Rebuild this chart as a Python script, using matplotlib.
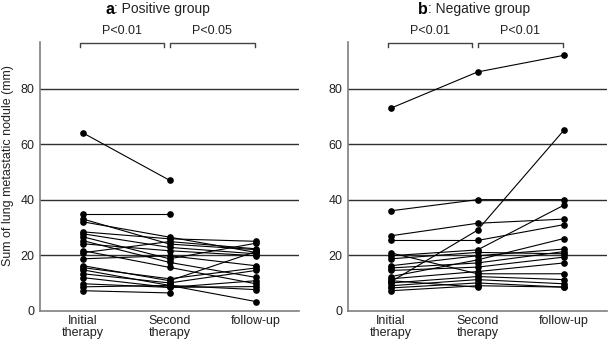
import numpy as np
import matplotlib
matplotlib.use('Agg')
import matplotlib.pyplot as plt

plt.rcParams['font.family'] = ['Liberation Sans', 'DejaVu Sans']

nan = np.nan
stages = ['Initial\ntherapy', 'Second\ntherapy', 'follow-up']

# each row: initial, second, follow-up (mm)
positive = [
    [64, 47, nan], [35, 35, nan], [33, 24, 22], [32, 26.5, 21],
    [28.4, 25.9, 25], [27.7, 22.8, 20.5], [26.6, 18.7, 24.3], [25.2, 17.4, 12],
    [24.1, 21.6, 19.8], [21.6, 15.6, 9.7], [20.9, 24.9, 22.3], [18.7, 19.8, 16.2],
    [16.2, 10.8, 21.3], [15.5, 11.5, 15.4], [14.7, 9.1, 3.3], [13.3, 10, 14.5],
    [11.9, 8.4, 8.7], [9.7, 8.4, 10.8], [8.6, 9.1, 7.6], [7.2, 6.4, nan],
]
negative = [
    [73, 86, 92], [36, 40, 40], [27, 31.5, 33], [25.3, 25.3, 31],
    [10.5, 29, 65], [19.8, 21.9, 38], [18.7, 21, 20.5], [16.2, 19.8, 22.2],
    [15.4, 17.2, 21.3], [14.5, 15.7, 19.3], [12.3, 18.3, 26], [11.5, 14.1, 17.2],
    [20.8, 13.3, 13.3], [10, 12.3, 11.2], [9, 11.2, 9.7], [8.2, 10, 8.5],
    [7.2, 9, 8.5], [10.8, 8.5, nan],
]
panels = [('a', ': Positive group', positive, ['P<0.01', 'P<0.05']),
          ('b', ': Negative group', negative, ['P<0.01', 'P<0.01'])]

W, H = 609, 343
fig = plt.figure(figsize=(W / 100, H / 100), dpi=100)
lefts = [40, 348]
splits = [114, 428]
x = np.array([1, 2, 3])

for k, (letter, title, data, pvals) in enumerate(panels):
    ax = fig.add_axes([lefts[k] / W, 1 - 310.7 / H, 259 / W, 268.7 / H])
    for yy in [20, 40, 60, 80]:
        ax.axhline(yy, color='#303030', lw=1, zorder=1)
    for row in data:
        row = np.array(row, dtype=float)
        m = ~np.isnan(row)
        ax.plot(x[m], row[m], '-', color='black', lw=0.8, zorder=2)
        ax.plot(x[m], row[m], 'o', color='black', ms=3.8, zorder=3)
    ax.set_xlim(0.5, 3.5)
    ax.set_ylim(0, 96.8)
    ax.set_yticks([0, 20, 40, 60, 80])
    ax.set_xticks(x)
    ax.set_xticklabels(stages, fontsize=9, linespacing=1.0)
    ax.tick_params(axis='both', length=0, labelsize=9, colors='#222222')
    ax.tick_params(axis='y', pad=4)
    ax.tick_params(axis='x', pad=3)
    for s in ['top', 'right']:
        ax.spines[s].set_visible(False)
    for s in ['left', 'bottom']:
        ax.spines[s].set_color('#7f7f7f')
        ax.spines[s].set_linewidth(1.2)

    # significance brackets
    for (x0, x1), p in zip([(0.96, 1.94), (2.0, 2.99)], pvals):
        ax.plot([x0, x0, x1, x1], [94.9, 96.4, 96.4, 94.9], color='#444444',
                lw=1, clip_on=False)
        ax.text((x0 + x1) / 2, 100.6, p, ha='center', va='center', fontsize=9,
                color='#222222', clip_on=False)

    fig.text(splits[k] / W, 1 - 9 / H, letter, ha='right', va='center',
             fontsize=11.5, fontweight='bold')
    fig.text(splits[k] / W, 1 - 9 / H, title, ha='left', va='center',
             fontsize=10, color='#222222')

fig.text(8 / W, 1 - 166 / H, 'Sum of lung metastatic nodule (mm)', rotation=90,
         ha='center', va='center', fontsize=9, color='#222222')

fig.savefig('out.png', dpi=100, facecolor='white')
